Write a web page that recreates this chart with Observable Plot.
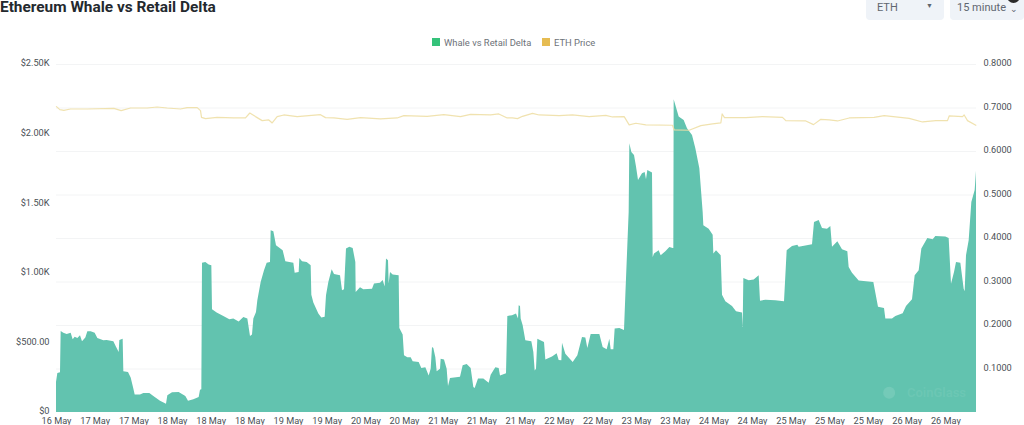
<!DOCTYPE html>
<html><head><meta charset="utf-8">
<script src="https://cdn.jsdelivr.net/npm/d3@7"></script>
<script src="https://cdn.jsdelivr.net/npm/@observablehq/plot@0.6"></script>
<style>
html,body{margin:0;padding:0;background:#fff;width:1024px;height:425px;overflow:hidden;font-family:Roboto,"Noto Sans",sans-serif}
#head{position:relative;height:50px;width:1024px;overflow:hidden}
#title{position:absolute;left:0;top:0;font-size:15.4px;line-height:14px;font-weight:700;color:#24292e;white-space:nowrap}
.sel{position:absolute;top:-6px;height:26px;background:#eff3f8;border-radius:4px;font-size:11px;color:#5f6670;line-height:27px}
.leg{position:absolute;top:37px;font-size:9.4px;color:#6d7278;line-height:11px;white-space:nowrap}
.sw{position:absolute;top:38px;width:8px;height:8px}
#dot{position:absolute;left:1007px;top:-10px;width:13px;height:13px;border-radius:50%;background:#2b2b2b}
svg{display:block}
</style></head><body>
<div id="head">
<div id="title">Ethereum Whale vs Retail Delta</div>
<div class="sel" style="left:866px;width:78px;padding-left:11px;box-sizing:border-box">ETH<span style="position:absolute;left:60px;top:-1px;font-size:7px">▼</span></div>
<div class="sel" style="left:950px;width:74px;padding-left:7px;box-sizing:border-box">15 minute<span style="position:absolute;left:60px;top:2px;font-size:9px">⌄</span></div>
<div id="dot"></div>
<div class="sw" style="left:432px;background:#35c27a"></div><div class="leg" style="left:444px">Whale vs Retail Delta</div>
<div class="sw" style="left:542px;background:#e6bc52"></div><div class="leg" style="left:554px">ETH Price</div>
</div>
<div id="chart"></div>
<script>
const xLabels = ["16 May","17 May","17 May","18 May","18 May","18 May","19 May","19 May","20 May","20 May","21 May","21 May","21 May","22 May","22 May","23 May","23 May","24 May","24 May","25 May","25 May","25 May","26 May","26 May"];
const labelStep = 116;
const leftTicks = [0,500,1000,1500,2000,2500];
const leftLabels = ["$0","$500.00","$1.00K","$1.50K","$2.00K","$2.50K"];
const rightTicks = [0.1,0.2,0.3,0.4,0.5,0.6,0.7,0.8];
const indexMax = 2760;
const usdMax = 2500;
const ratioMax = 0.8;

const deltaIndex = [
0,4,12,14,22,32,44,50,56,64,72,78,88,94,104,116,124,142,152,172,
180,188,190,200,202,216,224,232,236,252,262,280,292,312,330,334,348,368,388,396,
412,428,432,436,438,448,458,466,468,482,502,520,532,548,562,574,582,588,592,600,
604,614,624,632,642,644,652,660,680,688,712,716,728,730,738,752,764,766,772,787,
796,806,810,817,827,834,852,858,864,870,880,890,898,899,912,922,948,954,972,980,
986,990,996,998,1002,1010,1028,1030,1040,1044,1054,1064,1070,1088,1096,1108,1118,1124,1128,1132,
1138,1142,1152,1154,1164,1172,1176,1182,1212,1220,1232,1244,1252,1256,1266,1282,1298,1304,1318,1328,
1332,1350,1354,1368,1380,1386,1388,1392,1394,1400,1408,1426,1432,1436,1440,1444,1464,1468,1488,1502,
1508,1516,1518,1528,1550,1564,1578,1588,1594,1604,1630,1640,1652,1660,1664,1672,1676,1690,1704,1708,
1714,1718,1720,1726,1734,1740,1746,1758,1766,1770,1774,1788,1790,1794,1808,1814,1828,1840,1850,1852,
1853,1868,1883,1893,1908,1918,1930,1940,1942,1958,1970,1972,1980,1994,1998,2008,2028,2040,2058,2060,
2062,2078,2093,2108,2112,2128,2158,2184,2192,2208,2224,2228,2268,2274,2288,2298,2313,2323,2328,2344,
2358,2374,2378,2388,2408,2452,2466,2484,2488,2508,2518,2540,2550,2568,2576,2588,2596,2614,2630,2638,
2668,2678,2685,2694,2700,2713,2723,2726,2730,2738,2746,2756,2760];
const deltaUsd = [
216,280,285,582,570,560,570,522,541,532,551,508,536,580,580,570,532,515,517,508,
469,431,517,527,292,287,247,168,125,125,137,137,115,81,60,120,141,144,115,81,
91,108,160,163,1073,1078,1059,1054,738,714,690,666,671,651,683,671,546,556,671,719,
802,934,1018,1073,1078,1305,1298,1198,1162,1083,1073,1001,1006,1106,1083,1078,1054,843,786,707,
678,685,838,934,1025,992,982,874,881,1174,1188,1178,1078,862,896,881,886,924,929,948,
901,1102,1090,924,1006,987,982,604,556,407,393,393,364,359,316,321,263,311,467,460,
393,292,311,383,378,311,187,244,254,335,345,316,180,172,240,240,211,268,321,316,
263,278,690,695,707,671,766,762,671,623,515,508,431,299,311,527,503,378,398,422,
374,371,498,419,359,407,539,536,460,560,560,467,450,527,450,450,599,604,589,838,
1198,1437,1930,1868,1847,1763,1667,1715,1724,1672,1739,1720,1114,1138,1162,1126,1154,1186,1178,1178,
2247,2122,2098,2038,1990,1894,1751,1437,1341,1317,1274,1138,1162,1126,843,795,762,723,714,611,
963,946,951,982,800,807,802,795,1162,1193,1202,1188,1205,1365,1380,1322,1317,1336,1188,1226,
1169,1154,1042,1001,944,934,757,747,671,671,690,709,762,810,982,1018,1174,1250,1241,1265,
1260,1250,922,1006,1078,1073,886,867,1126,1233,1509,1595,1734];

const priceIndex = [
0,10,22,42,92,172,194,222,272,302,332,372,392,422,432,435,447,482,532,567,
580,597,617,637,647,662,682,722,792,807,832,872,912,972,1022,1042,1112,1162,1212,1242,
1302,1327,1352,1368,1383,1398,1428,1448,1508,1548,1598,1648,1668,1703,1718,1738,1768,1848,1853,1898,
1933,1968,1993,1997,2004,2068,2118,2178,2188,2248,2271,2293,2318,2343,2378,2453,2483,2558,2598,2638,
2673,2678,2718,2723,2733,2758];
const priceRatio = [
.7031,.6962,.6947,.6977,.6977,.6992,.6939,.7,.7,.7023,.7,.6977,.7008,.7008,.6939,.6786,.6756,.6786,.6771,.6771,
.6885,.6802,.671,.6725,.6656,.6802,.684,.6802,.6847,.6779,.6771,.674,.6779,.6748,.6771,.6824,.6809,.6847,.6802,.6855,
.684,.6863,.6771,.6771,.6756,.6809,.6878,.684,.6824,.684,.6802,.6832,.6794,.6802,.6611,.6649,.6611,.6603,.6496,.6489,
.6595,.6634,.6656,.6863,.6779,.6779,.6802,.6786,.671,.6702,.6618,.674,.6725,.6702,.6771,.6786,.6824,.6763,.6679,.671,
.671,.6817,.6802,.684,.671,.6603];

const deltaRows = deltaIndex.map((i,k)=>({i,v:deltaUsd[k]}));
const priceRows = priceIndex.map((i,k)=>({i,v:priceRatio[k]*usdMax/ratioMax}));
const rightOnLeft = rightTicks.map(r=>r*usdMax/ratioMax);
const axisFont = {fontSize:9.2, fill:"#4a4f55"};

document.getElementById("chart").append(Plot.plot({
  width:1024, height:375,
  marginLeft:56, marginRight:48, marginTop:14, marginBottom:13,
  style:{background:"transparent",fontFamily:'Roboto,"Noto Sans",sans-serif'},
  x:{type:"linear",domain:[0,indexMax],axis:null},
  y:{domain:[0,usdMax],axis:null},
  marks:[
    Plot.gridY(rightOnLeft,{stroke:"#f3f4f5",strokeOpacity:1,strokeWidth:1}),
    Plot.areaY(deltaRows,{x:"i",y:"v",fill:"#62c3af",curve:"linear"}),
    Plot.lineY(priceRows,{x:"i",y:"v",stroke:"#eedfa6",strokeWidth:1.2,strokeOpacity:.9,curve:"linear"}),
    Plot.axisX({ticks:xLabels.map((_,k)=>k*labelStep),tickFormat:d=>xLabels[d/labelStep],tickSize:0,tickPadding:5,label:null,...axisFont}),
    Plot.axisY({anchor:"left",ticks:leftTicks,tickFormat:d=>leftLabels[leftTicks.indexOf(d)],tickSize:0,tickPadding:7,dy:-1,label:null,...axisFont}),
    Plot.axisY({anchor:"right",ticks:rightOnLeft,tickFormat:d=>(d*ratioMax/usdMax).toFixed(4),tickSize:0,tickPadding:7,dy:-1,label:null,...axisFont}),
    Plot.dot(["logo"],{x:[2498],y:[142],r:6,fill:"#74cab8",stroke:null}),
    Plot.text(["CoinGlass"],{x:[2640],y:[140],text:d=>d,fill:"#6cc7b4",fontSize:13,fontWeight:600})
  ]
}));
</script>
</body></html>
